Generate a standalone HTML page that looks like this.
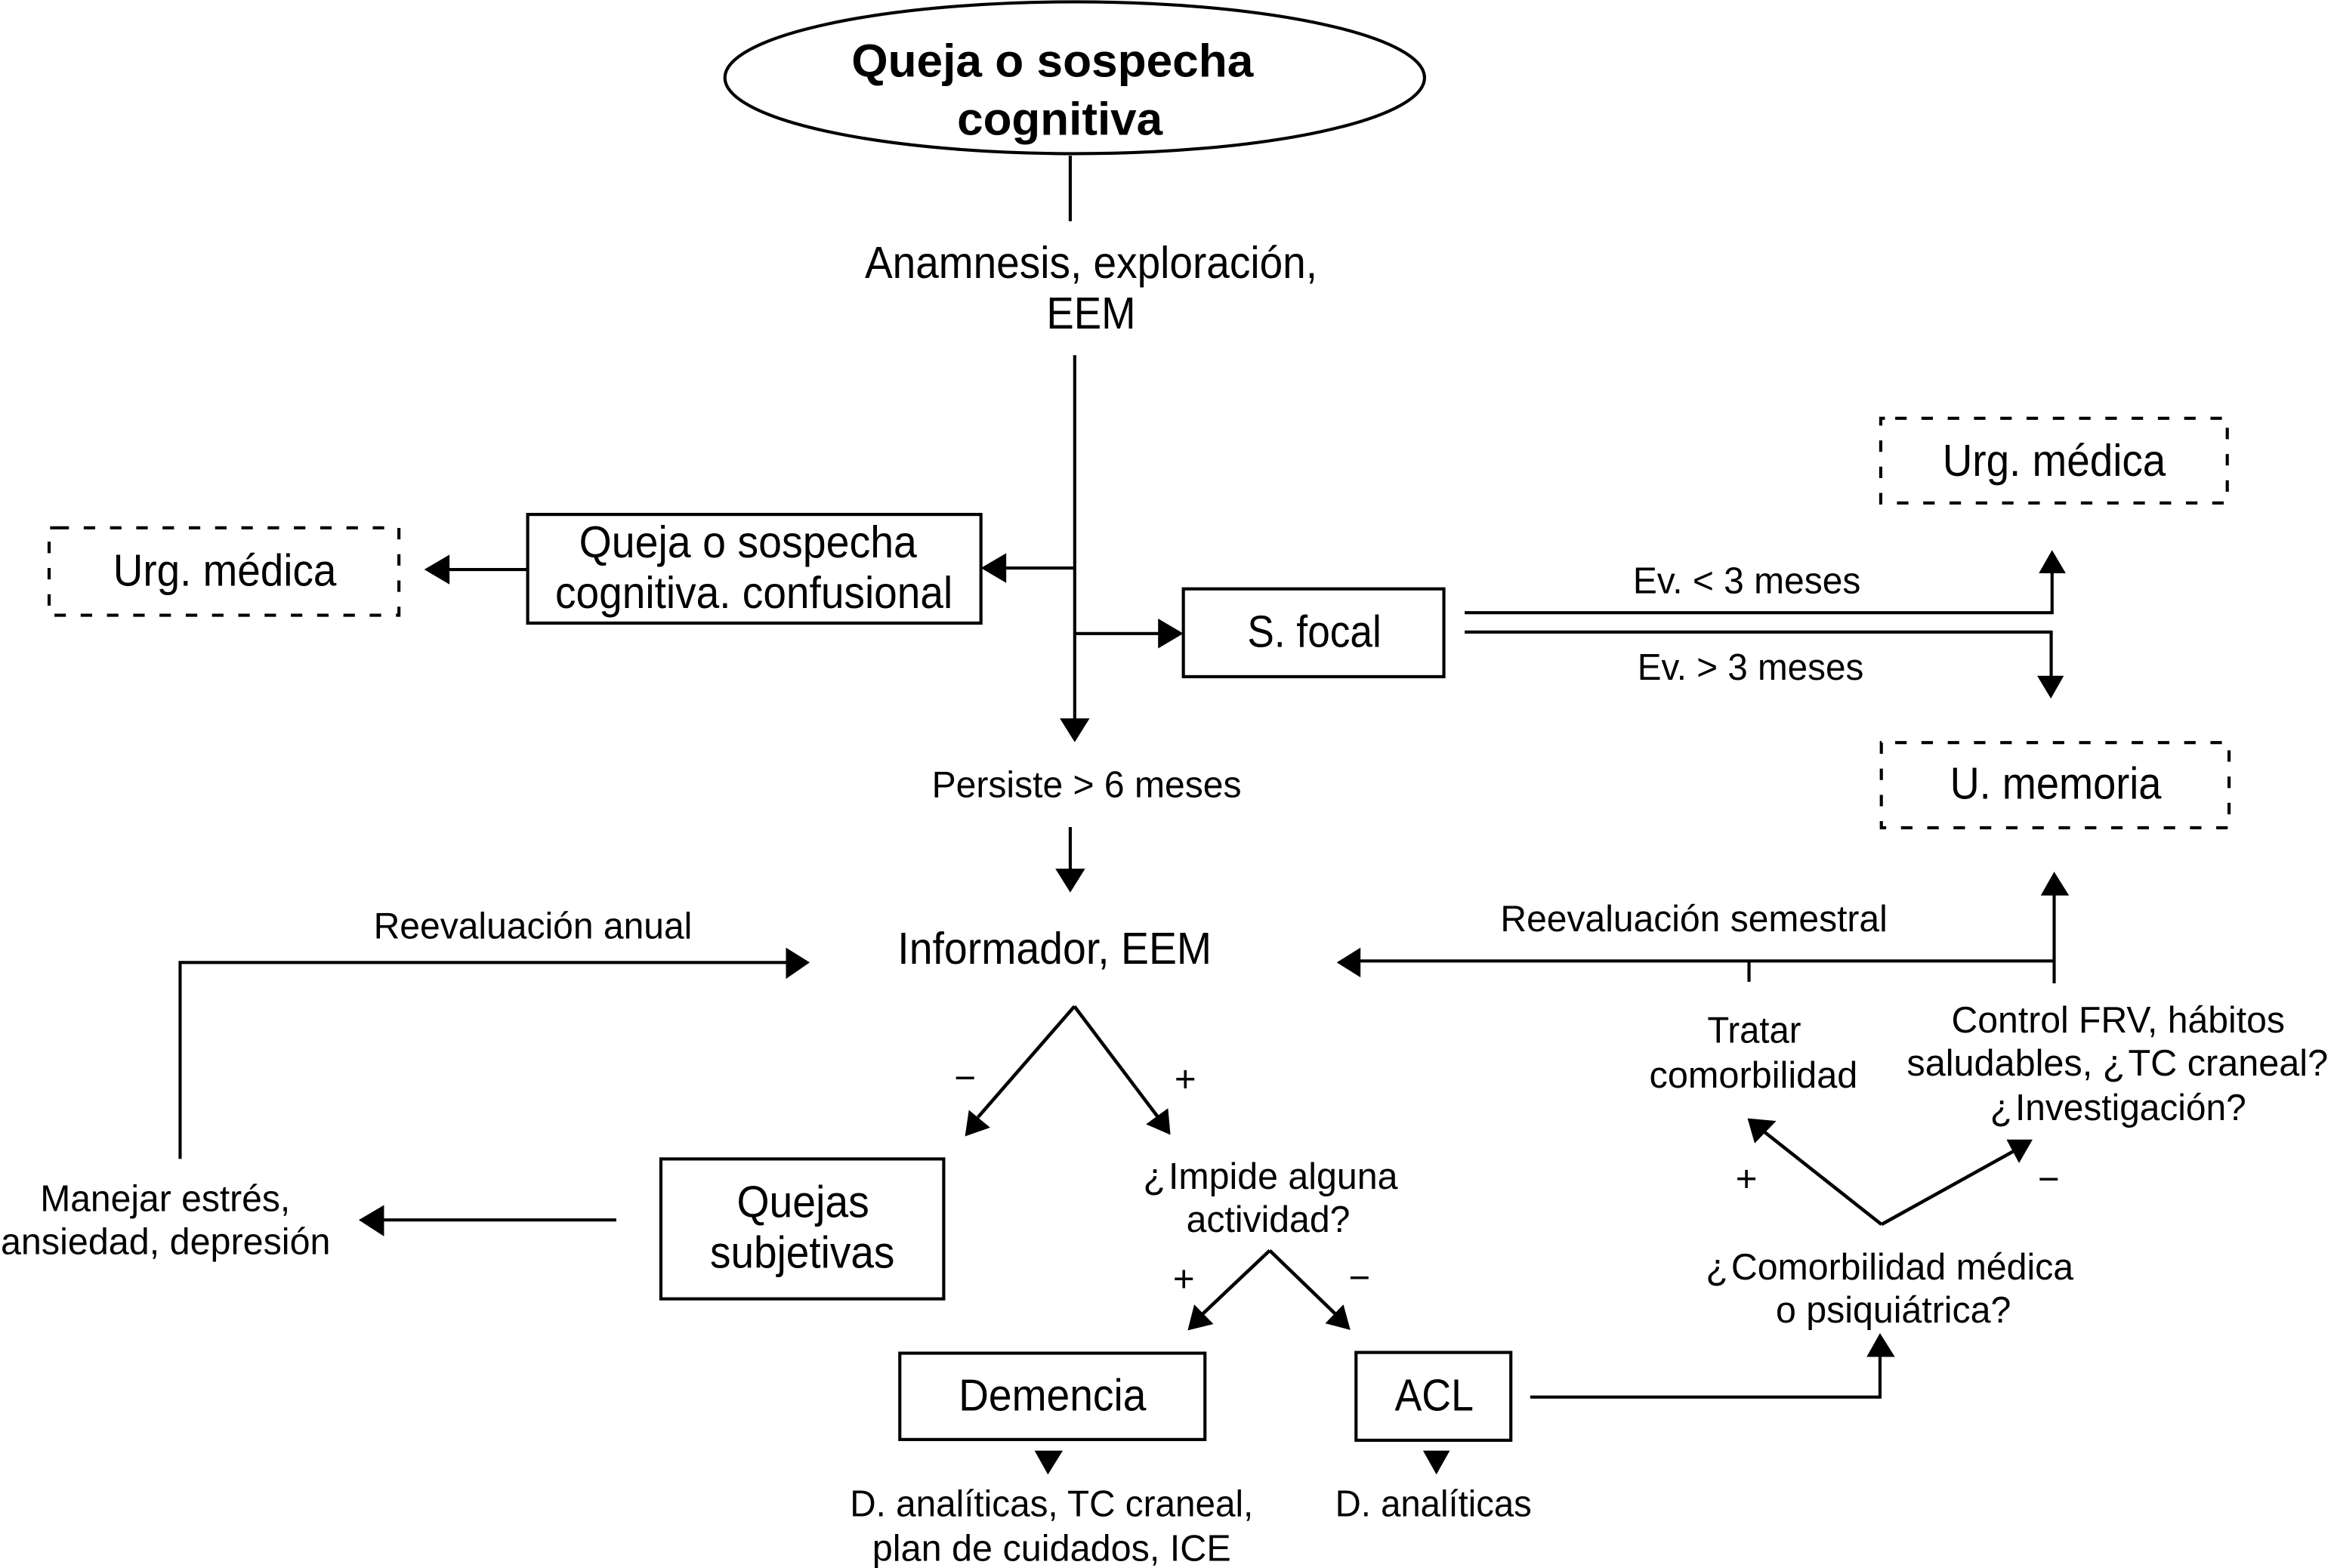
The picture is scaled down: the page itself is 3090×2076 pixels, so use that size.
<!DOCTYPE html>
<html lang="es"><head><meta charset="utf-8"><title>Queja o sospecha cognitiva</title>
<style>html,body{margin:0;padding:0;background:#fff}svg{display:block}
text{font-family:"Liberation Sans",sans-serif;fill:#000;font-size:27px}
.s{font-size:25px}.b{font-weight:bold;font-size:31px}.n{font-size:30px}</style></head><body>
<svg xmlns="http://www.w3.org/2000/svg" width="3090" height="2076" viewBox="0 0 1568 1053.4">
<rect width="1568" height="1054" fill="#fff"/>
<g transform="translate(0 0.6)">
<g fill="none" stroke="#000" stroke-width="2.1">
<ellipse cx="722" cy="51.600" rx="235" ry="51"/>
<path d="M719 104V148M722 238V485M722 381H672M722 425H782M354 382H298M984 411H1378.600V382M984 424H1378V456M719 555V586M121 778V646H530M1380 660V598M1380 645H910M1175 645V659M414 819H254M1028 938H1263V906"/>
<path stroke-width="2.300" d="M1264 822L1183 758M1264 822L1356 771M721.800 675.500L657 750M721.800 675.500L778 750M853 839.500L806 884M853 839.500L899 884"/>
<rect x="354.500" y="345" width="304.500" height="73"/>
<rect x="795" y="395" width="175" height="59"/>
<rect x="444" y="778" width="190" height="94"/>
<rect x="604.500" y="908.500" width="205" height="58"/>
<rect x="911" y="908" width="104" height="59"/>
<g stroke-dasharray="7.700 9.950" stroke-width="2.100">
<path d="M38.600 354H268V412.700H33V354H38.600"/>
<path d="M1273.200 280.400H1496.300V337.300H1263.500V280.400H1273.200"/>
<path d="M1273.200 498.300H1497.500V555.500H1263.900V498.300H1273.200"/>
</g></g>
<g fill="#000">
<polygon points="722,498 712,482 732,482"/>
<polygon points="659,381 676,371 676,391"/>
<polygon points="795,425 778,415 778,435"/>
<polygon points="285,382 302,372 302,392"/>
<polygon points="1378.600,368.900 1369.700,384.500 1387.800,384.500"/>
<polygon points="1377.800,468.700 1368.600,453.400 1386.500,453.400"/>
<polygon points="719,599 709,583 729,583"/>
<polygon points="544,646 528,636 528,657"/>
<polygon points="1380,585 1371,601 1390,601"/>
<polygon points="898,646 914,636 914,656"/>
<polygon points="241,819 258,809 258,830"/>
<polygon points="1174,750.700 1178.800,767.500 1193.300,752.500"/>
<polygon points="1365.500,765 1348,765 1356.400,780.800"/>
<polygon points="648.300,762.800 650.900,745.100 665.200,756.900"/>
<polygon points="786.300,761.800 784.700,743.900 769.900,754.700"/>
<polygon points="797.900,893.200 802.300,875.800 815.200,888.900"/>
<polygon points="907.200,892.900 902.500,875.800 890.300,888.500"/>
<polygon points="1263,895 1254,911 1273,911"/>
<polygon points="704,990 695,974 714,974"/>
<polygon points="965,990 956,974 974,974"/>
</g>
<g>
<text class="b" x="572" y="51" textLength="270" lengthAdjust="spacingAndGlyphs">Queja o sospecha</text>
<text class="b" x="643" y="90" textLength="138" lengthAdjust="spacingAndGlyphs">cognitiva</text>
<text class="n" x="581" y="186" textLength="304" lengthAdjust="spacingAndGlyphs">Anamnesis, exploración,</text>
<text class="n" x="703" y="220" textLength="60" lengthAdjust="spacingAndGlyphs">EEM</text>
<text class="n" x="389" y="374" textLength="227" lengthAdjust="spacingAndGlyphs">Queja o sospecha</text>
<text class="n" x="373" y="408" textLength="267" lengthAdjust="spacingAndGlyphs">cognitiva. confusional</text>
<text class="n" x="76" y="393" textLength="150" lengthAdjust="spacingAndGlyphs">Urg. médica</text>
<text class="n" x="1305" y="319" textLength="150" lengthAdjust="spacingAndGlyphs">Urg. médica</text>
<text class="n" x="1310" y="536" textLength="142" lengthAdjust="spacingAndGlyphs">U. memoria</text>
<text class="n" x="838" y="434" textLength="90" lengthAdjust="spacingAndGlyphs">S. focal</text>
<text class="s" x="1097" y="398" textLength="153" lengthAdjust="spacingAndGlyphs">Ev. &lt; 3 meses</text>
<text class="s" x="1100" y="456" textLength="152" lengthAdjust="spacingAndGlyphs">Ev. &gt; 3 meses</text>
<text class="s" x="626" y="535" textLength="208" lengthAdjust="spacingAndGlyphs">Persiste &gt; 6 meses</text>
<text class="n" x="603" y="647" textLength="211" lengthAdjust="spacingAndGlyphs">Informador, EEM</text>
<text class="s" x="251" y="630" textLength="214" lengthAdjust="spacingAndGlyphs">Reevaluación anual</text>
<text class="s" x="1008" y="625" textLength="260" lengthAdjust="spacingAndGlyphs">Reevaluación semestral</text>
<text class="s" x="1147" y="700" textLength="63" lengthAdjust="spacingAndGlyphs">Tratar</text>
<text class="s" x="1108" y="730" textLength="140" lengthAdjust="spacingAndGlyphs">comorbilidad</text>
<text class="s" x="1311" y="693" textLength="224" lengthAdjust="spacingAndGlyphs">Control FRV, hábitos</text>
<text class="s" x="1281" y="722" textLength="283" lengthAdjust="spacingAndGlyphs">saludables, ¿&#8202;TC craneal?</text>
<text class="s" x="1337" y="752" textLength="172" lengthAdjust="spacingAndGlyphs">¿&#8202;Investigación?</text>
<text class="s" x="1146" y="859" textLength="247" lengthAdjust="spacingAndGlyphs">¿&#8202;Comorbilidad médica</text>
<text class="s" x="1193" y="888" textLength="158" lengthAdjust="spacingAndGlyphs">o psiquiátrica?</text>
<text class="s" x="768" y="798" textLength="171" lengthAdjust="spacingAndGlyphs">¿&#8202;Impide alguna</text>
<text class="s" x="797" y="827" textLength="110" lengthAdjust="spacingAndGlyphs">actividad?</text>
<text class="n" x="495" y="817" textLength="89" lengthAdjust="spacingAndGlyphs">Quejas</text>
<text class="n" x="477" y="851" textLength="124" lengthAdjust="spacingAndGlyphs">subjetivas</text>
<text class="s" x="27" y="813" textLength="168" lengthAdjust="spacingAndGlyphs">Manejar estrés,</text>
<text class="s" x="0.5" y="842" textLength="221.500" lengthAdjust="spacingAndGlyphs">ansiedad, depresión</text>
<text class="n" x="644" y="947" textLength="126" lengthAdjust="spacingAndGlyphs">Demencia</text>
<text class="n" x="937" y="947" textLength="53" lengthAdjust="spacingAndGlyphs">ACL</text>
<text class="s" x="571" y="1018" textLength="271" lengthAdjust="spacingAndGlyphs">D. analíticas, TC craneal,</text>
<text class="s" x="586" y="1048" textLength="241" lengthAdjust="spacingAndGlyphs">plan de cuidados, ICE</text>
<text class="s" x="897" y="1018" textLength="132" lengthAdjust="spacingAndGlyphs">D. analíticas</text>
<text class="s" x="641" y="732">−</text>
<text class="s" x="789" y="733">+</text>
<text class="s" x="788" y="867">+</text>
<text class="s" x="906" y="866">−</text>
<text class="s" x="1166" y="800">+</text>
<text class="s" x="1369" y="800">−</text>
</g>
</g>
</svg>
</body></html>
